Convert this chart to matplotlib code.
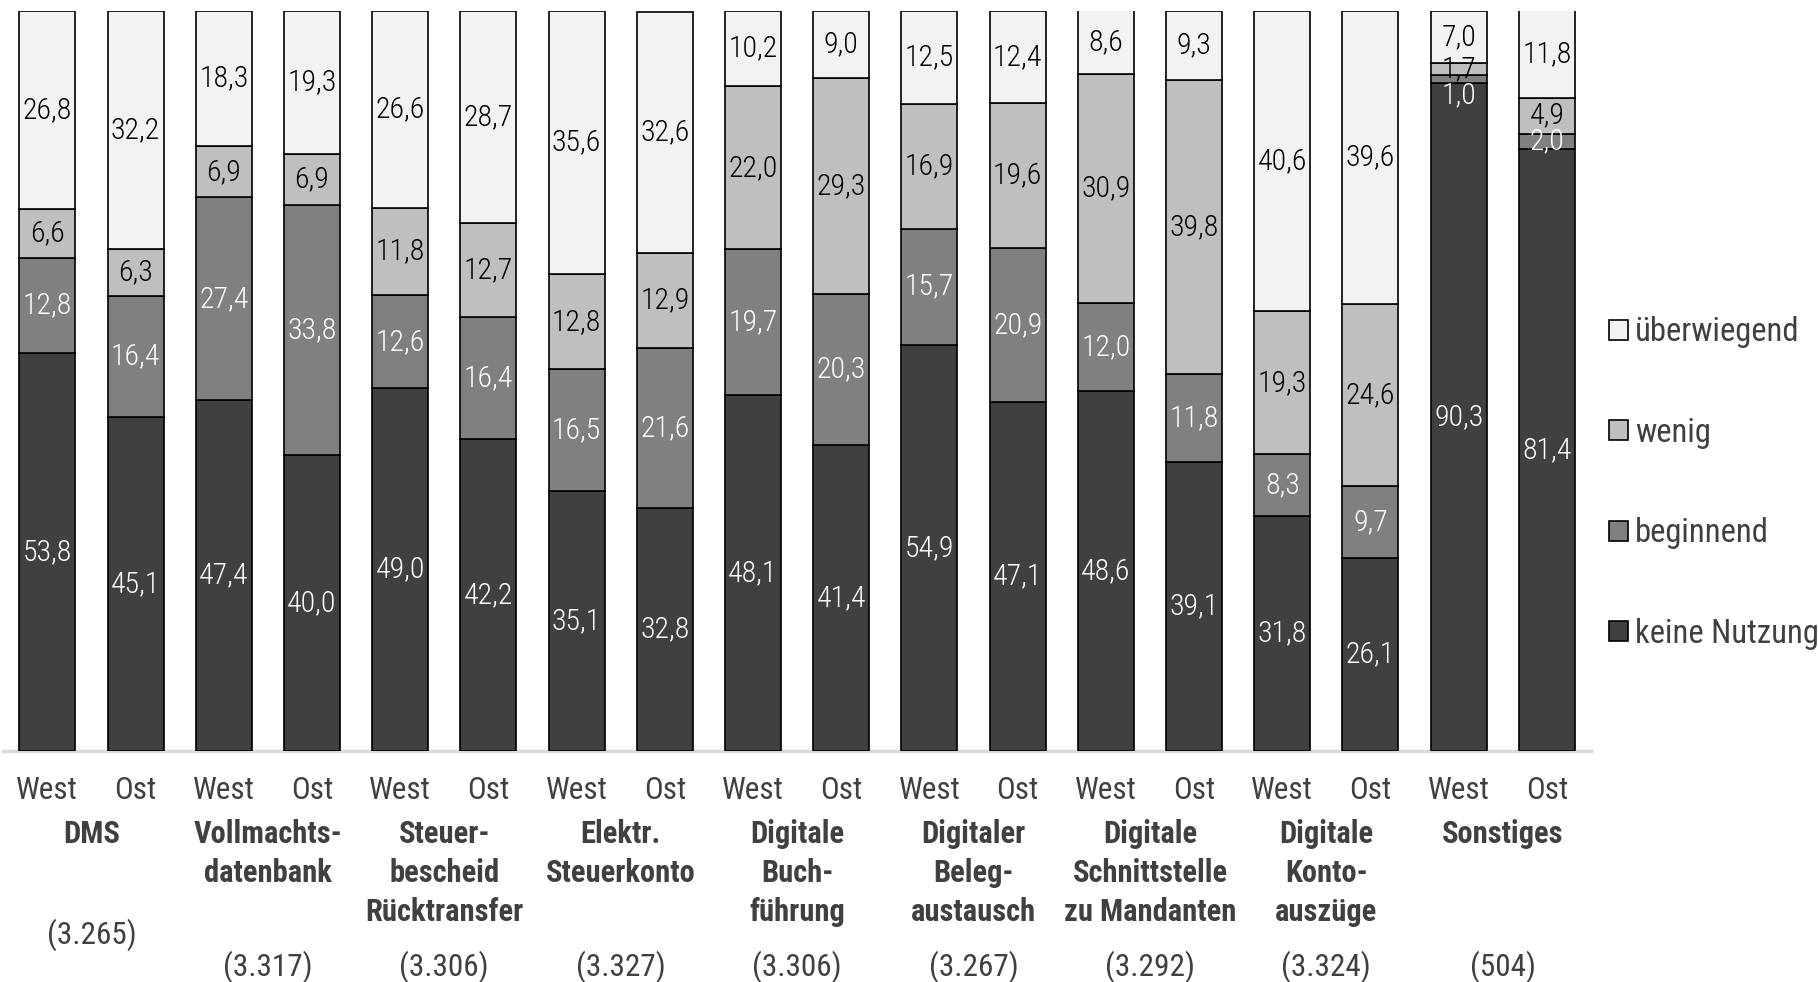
import numpy as np
import matplotlib.pyplot as plt
from matplotlib.patches import Patch
from matplotlib import transforms

plt.rcParams['font.family'] = ['Roboto Condensed', 'DejaVu Sans']

categories = ['DMS', 'Vollmachts-\ndatenbank', 'Steuer-\nbescheid\nRücktransfer',
              'Elektr.\nSteuerkonto', 'Digitale\nBuch-\nführung', 'Digitaler\nBeleg-\naustausch',
              'Digitale\nSchnittstelle\nzu Mandanten', 'Digitale\nKonto-\nauszüge', 'Sonstiges']
counts = ['(3.265)', '(3.317)', '(3.306)', '(3.327)', '(3.306)', '(3.267)', '(3.292)', '(3.324)', '(504)']
regions = ['West', 'Ost']

# order: West, Ost per category
keine = [53.8, 45.1, 47.4, 40.0, 49.0, 42.2, 35.1, 32.8, 48.1, 41.4,
         54.9, 47.1, 48.6, 39.1, 31.8, 26.1, 90.3, 81.4]
beginnend = [12.8, 16.4, 27.4, 33.8, 12.6, 16.4, 16.5, 21.6, 19.7, 20.3,
             15.7, 20.9, 12.0, 11.8, 8.3, 9.7, 1.0, 2.0]
wenig = [6.6, 6.3, 6.9, 6.9, 11.8, 12.7, 12.8, 12.9, 22.0, 29.3,
         16.9, 19.6, 30.9, 39.8, 19.3, 24.6, 1.7, 4.9]
ueberwiegend = [26.8, 32.2, 18.3, 19.3, 26.6, 28.7, 35.6, 32.6, 10.2, 9.0,
                12.5, 12.4, 8.6, 9.3, 40.6, 39.6, 7.0, 11.8]

series = [('keine Nutzung', keine, '#404040', 'white'),
          ('beginnend', beginnend, '#808080', 'white'),
          ('wenig', wenig, '#bfbfbf', 'black'),
          ('überwiegend', ueberwiegend, '#f2f2f2', 'black')]

W, H = 1818, 982
fig = plt.figure(figsize=(W / 100, H / 100), dpi=100)
ax = fig.add_axes([3.2 / W, 1 - 751 / H, (1591 - 3.2) / W, 740 / H])

x = np.arange(len(keine))
bottom = np.zeros(len(x))
handles = []
for name, vals, col, tcol in series:
    vals = np.array(vals)
    ax.bar(x, vals, bottom=bottom, width=0.635, color=col, edgecolor='black', linewidth=1.2, zorder=3)
    for xi, b, v in zip(x, bottom, vals):
        y = b + v / 2
        if v < 1.5:  # tiny segment: label pushed down like in the original
            y -= 2.2
        ax.text(xi, y, f'{v:.1f}'.replace('.', ','), ha='center', va='center',
                color=tcol, fontsize=21.5, fontweight='light', zorder=4)
    bottom += vals
    handles.append(Patch(facecolor=col, edgecolor='black', linewidth=1.2, label=name))

ax.set_xlim(-0.5, len(x) - 0.5)
ax.set_ylim(0, 100)
ax.set_yticks([])
for s in ['left', 'right', 'top']:
    ax.spines[s].set_visible(False)
ax.spines['bottom'].set_color('#d9d9d9')
ax.spines['bottom'].set_linewidth(2.5)
ax.set_xticks(x)
ax.set_xticklabels(regions * len(categories), fontsize=22.5, color='#404040')
ax.tick_params(axis='x', length=0, pad=18)

trans = transforms.blended_transform_factory(ax.transData, fig.transFigure)
for i, (cat, n) in enumerate(zip(categories, counts)):
    xc = 2 * i + 0.5
    ax.text(xc, 1 - 819 / H, cat, transform=trans, ha='center', va='top', fontsize=22,
            fontweight='bold', color='#404040', linespacing=1.37)
    ny = 935 if i == 0 else 967
    ax.text(xc, 1 - ny / H, n, transform=trans, ha='center', va='center', fontsize=22.5,
            color='#404040')

fig.legend(handles=handles[::-1], loc='center left', bbox_to_anchor=(1596 / W, 1 - 483 / H),
           frameon=False, fontsize=23.5, labelcolor='#404040', labelspacing=2.1,
           handlelength=0.58, handleheight=0.58, handletextpad=0.22, borderaxespad=0)

fig.savefig('out.png', dpi=100, facecolor='white')
